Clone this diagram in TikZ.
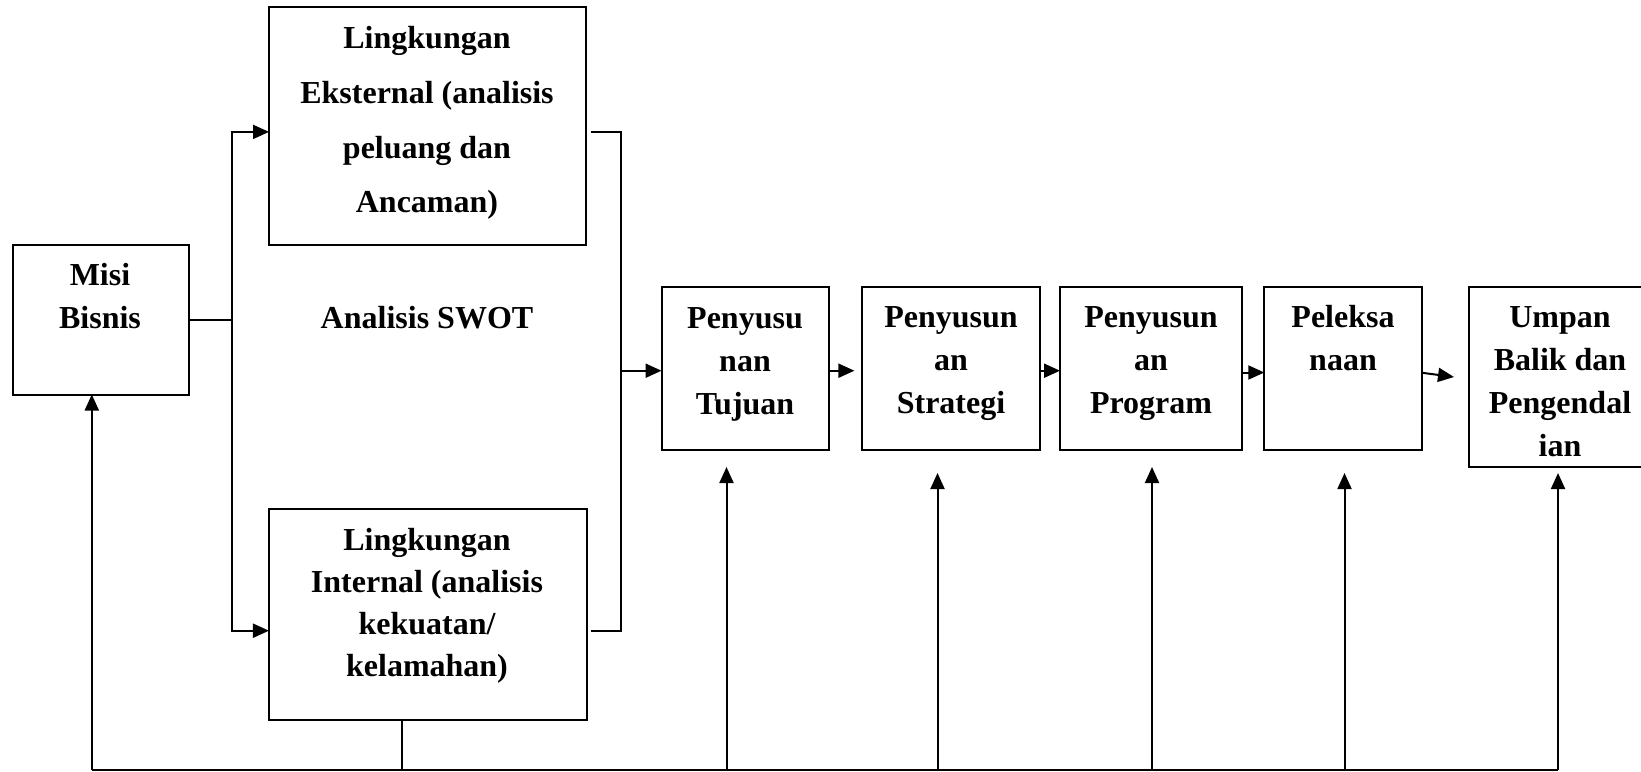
\documentclass[tikz,border=0pt]{standalone}
\usepackage{fontspec}
\setmainfont{Liberation Serif}
\usetikzlibrary{arrows.meta}
\begin{document}
\begin{tikzpicture}[x=0.5pt,y=-0.5pt,
  box/.style={draw, line width=1pt, inner sep=0pt, outer sep=0pt},
  lbl/.style={align=center, inner sep=0pt, font=\fontsize{16}{21.5}\selectfont\bfseries},
  wide/.style={font=\fontsize{16}{27.35}\selectfont\bfseries},
  mid/.style={font=\fontsize{16}{21}\selectfont\bfseries},
  conn/.style={line width=1pt},
  arr/.style={line width=1pt, -{Triangle[length=8pt,width=7pt]}}]
\useasboundingbox (0,0) rectangle (1641,771);
% boxes
\node[box, minimum width=176.8*0.5pt, minimum height=149.5*0.5pt] (misi) at (101,319.75) {};
\node[box, minimum width=317*0.5pt, minimum height=237.7*0.5pt] (ext) at (427.5,126.2) {};
\node[box, minimum width=317.7*0.5pt, minimum height=211*0.5pt] (int) at (427.8,614.5) {};
\node[box, minimum width=167.5*0.5pt, minimum height=163*0.5pt] (tuj) at (745.25,368.5) {};
\node[box, minimum width=177.9*0.5pt, minimum height=163*0.5pt] (str) at (951.35,368.5) {};
\node[box, minimum width=182.3*0.5pt, minimum height=163*0.5pt] (prog) at (1151.15,368.5) {};
\node[box, minimum width=157.2*0.5pt, minimum height=163*0.5pt] (pel) at (1342.9,368.5) {};
\node[box, minimum width=175*0.5pt, minimum height=179.7*0.5pt] (ump) at (1556.5,376.85) {};
% texts
\node[lbl] (tmisi) at (100,296) {Misi\hspace{5pt}\\Bisnis};
\node[lbl, wide] (text) at (427,123) {Lingkungan\\Eksternal (analisis\\peluang dan\\Ancaman)};
\node[lbl] (tswot) at (427,318) {Analisis SWOT};
\node[lbl, mid] (tint) at (427,605.5) {Lingkungan\\Internal (analisis\\kekuatan/\\kelamahan)};
\node[lbl] (ttuj) at (745,364) {Penyusu\\nan\\Tujuan};
\node[lbl] (tstr) at (951,364) {Penyusun\\an\\Strategi};
\node[lbl] (tprog) at (1151,364) {Penyusun\\an\\Program};
\node[lbl] (tpel) at (1343,338) {Peleksa\\naan};
\node[lbl] (tump) at (1560,382) {Umpan\\Balik dan\\Pengendal\\ian};
% left bus
\coordinate (bx) at (231.7,0);
\coordinate (bm) at (misi.east -| bx);
\coordinate (ya) at (0,131.9);
\coordinate (yb) at (0,630.7);
\draw[conn] (misi.east) -- (bm);
\draw[arr] (bm) |- (ext.west |- ya);
\draw[arr] (bm) |- (int.west |- yb);
% right bracket
\coordinate (rx) at (621,0);
\coordinate (eOut) at (591,131.7);
\coordinate (iOut) at (591,630.7);
\draw[conn] (eOut) -| (rx |- iOut) -- (iOut);
\coordinate (yt) at (0,370.7);
\coordinate (yp) at (0,372.5);
\draw[arr] (rx |- yt) -- (tuj.west |- yt);
\draw[arr, shorten >=4pt] (tuj.east |- yt) -- (str.west |- yt);
\draw[arr] (str.east |- yt) -- (prog.west |- yt);
\draw[arr] (prog.east |- yp) -- (pel.west |- yp);
\coordinate (pu1) at (1421.5,372.7);
\coordinate (pu2) at (1454,377);
\draw[arr] (pel.east |- pu1) -- (pu2);
% bottom feedback
\coordinate (by) at (0,769.5);
\coordinate (bl) at (91.8,769.5);
\coordinate (br) at (1558,769.5);
\coordinate (ix) at (401.5,0);
\draw[conn] (int.south -| ix) -- (ix |- by);
\draw[conn] (bl) -- (br);
\draw[arr] (bl) -- (misi.south -| bl);
\coordinate (t1) at (726.5,467);
\coordinate (t2) at (937.5,473);
\coordinate (t3) at (1152,467);
\coordinate (t4) at (1344.5,473);
\coordinate (t5) at (1558,473);
\draw[arr] (t1 |- by) -- (t1);
\draw[arr] (t2 |- by) -- (t2);
\draw[arr] (t3 |- by) -- (t3);
\draw[arr] (t4 |- by) -- (t4);
\draw[arr] (t5 |- by) -- (t5);
\end{tikzpicture}
\end{document}
